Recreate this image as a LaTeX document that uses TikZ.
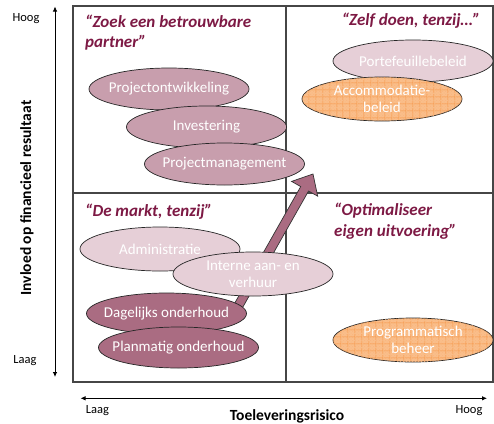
\documentclass[tikz,border=0pt]{standalone}
\usepackage{fontspec}
\setmainfont{Carlito}
\usetikzlibrary{shapes.geometric,patterns,patterns.meta,calc,arrows.meta}
\definecolor{darkm}{RGB}{170,108,130}
\definecolor{midm}{RGB}{200,158,173}
\definecolor{lightm}{RGB}{230,207,215}
\definecolor{orfill}{RGB}{250,190,138}
\definecolor{orline}{RGB}{247,150,70}
\definecolor{titlec}{RGB}{125,25,68}
\definecolor{framec}{RGB}{70,70,70}
\begin{document}
\begin{tikzpicture}[x=1pt,y=-1pt,
  ell/.style={ellipse,draw=black!85,line width=0.7pt,minimum width=160pt,minimum height=42pt,
    inner xsep=-25pt,inner ysep=-12pt,text=white,font=\fontsize{15}{17}\selectfont,align=center},
  darkell/.style={ell,fill=darkm},
  midell/.style={ell,fill=midm},
  lightell/.style={ell,fill=lightm},
  orell/.style={ell,fill=orfill,
    postaction={pattern=crosshatch dots,pattern color=orline!70},
    postaction={pattern={Lines[distance=6.5pt,angle=0,line width=0.5pt]},pattern color=orline},
    postaction={pattern={Lines[distance=6.5pt,angle=90,line width=0.5pt]},pattern color=orline}},
  titletxt/.style={text=titlec,font=\fontsize{17}{20.5}\selectfont\bfseries\itshape,inner sep=0pt,align=left},
  axlbl/.style={font=\fontsize{12.5}{14}\selectfont,inner sep=0pt},
  axtitle/.style={font=\fontsize{15.5}{18}\selectfont\bfseries,inner sep=0pt},
  frameline/.style={draw=framec,line width=1.1pt},
  axisline/.style={draw=black,line width=0.8pt,{Latex[length=5pt,width=4.5pt]}-{Latex[length=5pt,width=4.5pt]}},
  bigarrow/.style={fill=darkm,draw=black!80,line width=0.7pt,line join=miter}
]
\useasboundingbox (0,0) rectangle (494,423);
% frame and quadrants
\draw[frameline] (73,6) rectangle (493,382);
\draw[frameline] (286,6) -- (286,382);
\draw[frameline] (73,193) -- (493,193);
% axes
\coordinate (ytop) at (55,6.5);
\coordinate (ybot) at (55,377);
\coordinate (xl) at (80.5,398.3);
\coordinate (xr) at (487,398.3);
\draw[axisline] (ybot) -- (ytop);
\draw[axisline] (xl) -- (xr);
\node[axlbl] (yhoog) at (26,19) {Hoog};
\node[axlbl] (ylaag) at (25,361) {Laag};
\node[axlbl] (xlaag) at (97.5,411) {Laag};
\node[axlbl] (xhoog) at (469,410.5) {Hoog};
\node[axtitle] (xtitle) at (287,416) {Toeleveringsrisico};
\node[axtitle,rotate=90] (ytitle) at (27,198) {Invloed op financieel resultaat};
% quadrant titles
\node[titletxt,anchor=north west] (q1) at (85,14.5) {“Zoek een betrouwbare\\partner”};
\node[titletxt] (q2) at (411,21) {“Zelf doen, tenzij…”};
\node[titletxt,anchor=west] (q3) at (85,212) {“De markt, tenzij”};
\node[titletxt,anchor=north west] (q4) at (334,203) {“Optimaliseer\\eigen uitvoering”};
% big arrow
\coordinate (S) at (236,310);
\coordinate (T) at (313,174);
\coordinate (B) at ($(T)!17pt!(S)$);
\draw[bigarrow]
  ($(S)!4.5pt!90:(T)$) -- ($(B)!4.5pt!-90:(S)$) -- ($(B)!15pt!-90:(S)$) -- (T)
  -- ($(B)!15pt!90:(S)$) -- ($(B)!4.5pt!90:(S)$) -- ($(S)!4.5pt!-90:(T)$) -- cycle;
% ellipses
\node[midell] (pont) at (169,89) {Projectontwikkeling};
\node[midell] (inv) at (206.5,127) {Investering};
\node[midell] (pman) at (224.5,164) {Projectmanagement};
\node[lightell] (port) at (413,61) {Portefeuillebeleid};
\node[orell,minimum height=44pt] (acc) at (382,99) {Accommodatie-\\beleid};
\node[lightell,minimum height=44pt] (adm) at (160,249) {Administratie};
\node[lightell,minimum height=44pt] (int) at (253,274) {Interne aan- en\\verhuur};
\node[darkell,minimum height=41pt] (dag) at (166.5,313.5) {Dagelijks onderhoud};
\node[darkell,minimum height=41pt] (plan) at (178.5,347.5) {Planmatig onderhoud};
\node[orell,minimum height=44pt] (prog) at (413,340) {Programmatisch\\beheer};
\end{tikzpicture}
\end{document}
